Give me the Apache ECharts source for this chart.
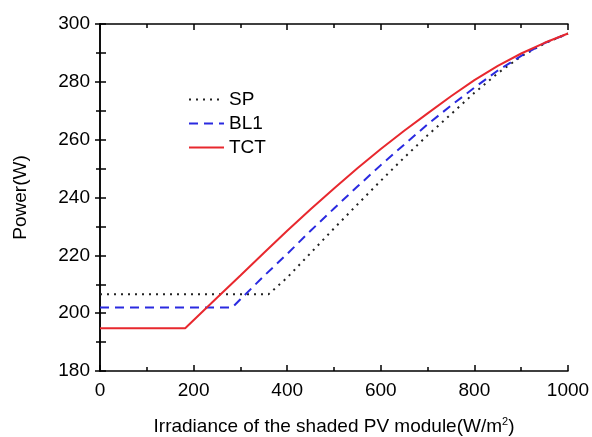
<!DOCTYPE html>
<html>
<head>
<meta charset="utf-8">
<script src="https://cdn.jsdelivr.net/npm/echarts@6/dist/echarts.min.js"></script>
<style>
html,body{margin:0;padding:0;background:#fff;}
#chart{width:592px;height:437px;}
</style>
</head>
<body>
<div id="chart"></div>
<script>
// Data
const sp_x  = [0, 360, 400, 450, 500, 550, 600, 650, 700, 750, 800, 850, 900, 950, 1000];
const sp_y  = [206.5, 206.5, 212.3, 220.8, 229.3, 237.6, 245.8, 253.8, 261.5, 268.8, 276.2, 283.0, 288.8, 293.3, 296.7];
const bl1_x = [0, 283, 300, 350, 400, 450, 500, 550, 600, 650, 700, 750, 800, 850, 900, 950, 1000];
const bl1_y = [202, 202, 204.8, 212.8, 220.5, 228.5, 236.2, 243.8, 251.2, 258.3, 265.3, 271.8, 278.0, 283.9, 289.0, 293.4, 296.7];
const tct_x = [0, 182, 250, 300, 350, 400, 450, 500, 550, 600, 650, 700, 750, 800, 850, 900, 950, 1000];
const tct_y = [194.8, 194.8, 205.3, 213.0, 220.8, 228.5, 235.9, 243.1, 250.1, 256.8, 263.1, 269.1, 275.0, 280.6, 285.5, 289.8, 293.5, 296.7];
const seriesNames = ['SP', 'BL1', 'TCT'];

const FONT = '"Liberation Sans", Arial, sans-serif';
function pairs(xs, ys){ return xs.map((x,i)=>[x, ys[i]]); }

const chart = echarts.init(document.getElementById('chart'), null, {renderer:'canvas'});
const axisLine = {show:true, lineStyle:{color:'#000', width:1.5}};
chart.setOption({
  backgroundColor:'#fff',
  animation:false,
  grid:{left:100, right:24, top:24, bottom:66, containLabel:false, outerBoundsMode:'none'},
  legend:{
    orient:'vertical', left:183, top:85,
    itemWidth:35, itemHeight:14, itemGap:5,
    data:seriesNames,
    itemStyle:{opacity:0},
    textStyle:{fontFamily:FONT, fontSize:19, color:'#000'}
  },
  xAxis:[{
    type:'value', min:0, max:1000, interval:200, position:'bottom',
    axisLine:axisLine,
    axisTick:{show:true, inside:true, length:6, lineStyle:{color:'#000', width:1.5}},
    minorTick:{show:true, splitNumber:2, length:4, lineStyle:{color:'#000', width:1.5}},
    splitLine:{show:false},
    axisLabel:{fontFamily:FONT, fontSize:19, color:'#000', margin:10, formatter:v=>String(v)},
    name:'Irradiance of the shaded PV module(W/m{sup|2})',
    nameLocation:'middle', nameGap:45,
    nameTextStyle:{fontFamily:FONT, fontSize:19, color:'#000',
      rich:{sup:{fontFamily:FONT, fontSize:11, color:'#000', verticalAlign:'top', padding:[0,0,10,0]}}}
  },{
    type:'value', min:0, max:1000, interval:200, position:'top',
    axisLine:axisLine,
    axisTick:{show:true, inside:true, length:6, lineStyle:{color:'#000', width:1.5}},
    minorTick:{show:true, splitNumber:2, length:4, lineStyle:{color:'#000', width:1.5}},
    splitLine:{show:false},
    axisLabel:{show:false}
  }],
  yAxis:[{
    type:'value', min:180, max:300, interval:20, position:'left',
    axisLine:axisLine,
    axisTick:{show:true, inside:false, length:5, lineStyle:{color:'#000', width:1.5}},
    minorTick:{show:true, splitNumber:2, length:4, lineStyle:{color:'#000', width:1.5}},
    splitLine:{show:false},
    axisLabel:{fontFamily:FONT, fontSize:19, color:'#000', margin:10},
    name:'Power(W)', nameLocation:'middle', nameGap:70, nameRotate:90,
    nameTextStyle:{fontFamily:FONT, fontSize:19, color:'#000'}
  },{
    type:'value', min:180, max:300, interval:20, position:'right',
    axisLine:axisLine,
    axisTick:{show:true, inside:false, length:6, lineStyle:{color:'#000', width:1.5}},
    minorTick:{show:true, splitNumber:2, length:6, lineStyle:{color:'#000', width:1.5}},
    splitLine:{show:false},
    axisLabel:{show:false}
  }],
  series:[
    {name:seriesNames[0], type:'line', symbol:'none', data:pairs(sp_x, sp_y),
     lineStyle:{color:'#222', width:2, type:[2,5]}, itemStyle:{color:'#222'}},
    {name:seriesNames[1], type:'line', symbol:'none', data:pairs(bl1_x, bl1_y),
     lineStyle:{color:'#2a2ae0', width:2, type:[9,6]}, itemStyle:{color:'#2a2ae0'}},
    {name:seriesNames[2], type:'line', symbol:'none', data:pairs(tct_x, tct_y),
     lineStyle:{color:'#e8282e', width:2}, itemStyle:{color:'#e8282e'}}
  ]
});
</script>
</body>
</html>
